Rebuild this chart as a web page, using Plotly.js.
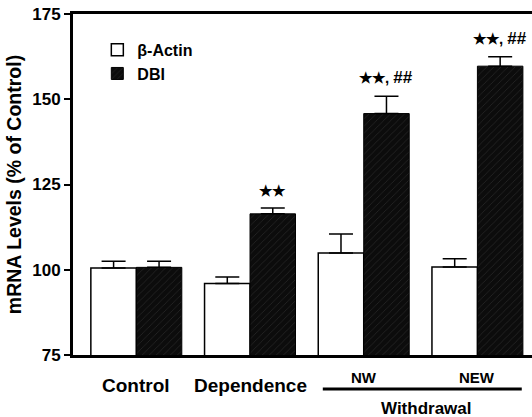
<!DOCTYPE html>
<html>
<head>
<meta charset="utf-8">
<script src="https://cdn.plot.ly/plotly-3.0.1.min.js"></script>
<style>html,body{margin:0;padding:0;overflow:hidden;background:#fff;}#chart{width:532px;height:417px;}</style>
</head>
<body>
<div id="chart"></div>
<script>
const categories = ['Control', 'Dependence', 'NW', 'NEW'];
const actin = [100.5, 96.0, 104.9, 100.8];
const actinErr = [2.0, 1.9, 5.6, 2.4];
const dbi = [100.7, 116.4, 145.8, 159.7];
const dbiErr = [1.8, 1.7, 5.1, 2.8];
const sigLabels = ['', '★★', '★★, ##', '★★, ##'];
const yTicks = [75, 100, 125, 150, 175];
const rightTicks = [100, 150];
const groupLabel = 'Withdrawal';
const groupMembers = [2, 3];
const seriesNames = ['β-Actin', 'DBI'];

const FONT = 'Liberation Sans, Arial, Helvetica, sans-serif';
const idx = categories.map((c, i) => i);

const traces = [
  {
    type: 'bar', name: seriesNames[0], x: idx, y: actin,
    marker: {color: '#ffffff', line: {color: '#000', width: 1.5}},
    error_y: {type: 'data', symmetric: false, array: actinErr, arrayminus: actin.map(() => 0),
              color: '#000', thickness: 1.5, width: 12}
  },
  {
    type: 'bar', name: seriesNames[1], x: idx, y: dbi,
    marker: {color: '#111', line: {color: '#000', width: 1},
             pattern: {shape: '/', fgcolor: '#363636', bgcolor: '#0c0c0c', size: 5, solidity: 0.1}},
    error_y: {type: 'data', symmetric: false, array: dbiErr, arrayminus: dbi.map(() => 0),
              color: '#000', thickness: 1.5, width: 12}
  }
];

function sigText(s) {
  return s.replace(/(#+)/, '<span style="font-size:17px">$1</span>');
}

const annotations = [];
categories.forEach((c, i) => {
  const inGroup = groupMembers.includes(i);
  annotations.push({
    x: i, y: 0, xref: 'x', yref: 'paper', text: c, showarrow: false,
    yanchor: 'middle', yshift: inGroup ? -22 : -30,
    font: {family: FONT, size: inGroup ? 15 : 19, color: '#000', weight: 'bold'}
  });
  if (sigLabels[i]) {
    annotations.push({
      x: i + 0.2, y: dbi[i] + dbiErr[i], xref: 'x', yref: 'y', text: sigText(sigLabels[i]),
      showarrow: false, yanchor: 'bottom', yshift: 7,
      font: {family: FONT, size: 15, color: '#000', weight: 'bold'}
    });
  }
});
const gx0 = groupMembers[0] - 0.36, gx1 = groupMembers[1] + 0.39;
annotations.push({
  x: (gx0 + gx1) / 2 + 0.04, y: 0, xref: 'x', yref: 'paper', text: groupLabel, showarrow: false,
  yanchor: 'middle', yshift: -53,
  font: {family: FONT, size: 17, color: '#000', weight: 'bold'}
});

const layout = {
  width: 532, height: 417,
  margin: {l: 73, r: 0, t: 14, b: 62},
  paper_bgcolor: '#fff', plot_bgcolor: '#fff',
  barmode: 'group', bargap: 0.2, bargroupgap: 0,
  font: {family: FONT, color: '#000', weight: 'bold'},
  showlegend: true,
  legend: {x: 0.053, y: 0.945, xanchor: 'left', yanchor: 'top', bgcolor: 'rgba(0,0,0,0)',
           font: {family: FONT, size: 16, color: '#000', weight: 'bold'}, tracegroupgap: 0},
  xaxis: {
    range: [-0.557, 3.48], showticklabels: false, ticks: '', showgrid: false, zeroline: false,
    showline: true, linecolor: '#000', linewidth: 3, mirror: true, fixedrange: true
  },
  yaxis: {
    range: [75, 175], tickvals: yTicks, ticktext: yTicks.map(String), ticks: 'outside', ticklen: 6,
    tickwidth: 2, tickcolor: '#000', showgrid: false, zeroline: false,
    showline: true, linecolor: '#000', linewidth: 3,
    tickfont: {family: FONT, size: 17, color: '#000', weight: 'bold'},
    title: {text: 'mRNA Levels (% of Control)', standoff: 6,
            font: {family: FONT, size: 19.5, color: '#000', weight: 'bold'}}
  },
  yaxis2: {
    overlaying: 'y', side: 'right', range: [75, 175], tickvals: rightTicks, ticks: 'inside',
    ticklen: 4, tickwidth: 2, tickcolor: '#000', showticklabels: false, showgrid: false,
    zeroline: false, showline: false
  },
  shapes: [{type: 'line', xref: 'x', yref: 'paper', x0: gx0, x1: gx1, y0: -0.1, y1: -0.1,
            line: {color: '#000', width: 3}}],
  annotations: annotations
};

Plotly.newPlot('chart', traces, layout, {displayModeBar: false, staticPlot: true});
</script>
</body>
</html>
